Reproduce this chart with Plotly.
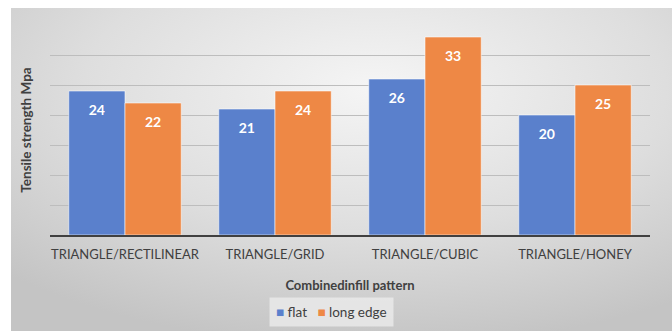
import base64
import plotly.graph_objects as go

# Data
patterns = ["TRIANGLE/RECTILINEAR", "TRIANGLE/GRID", "TRIANGLE/CUBIC", "TRIANGLE/HONEY"]
flat = [24, 21, 26, 20]
long_edge = [22, 24, 33, 25]
series = [("flat", flat, "#5A80CC"), ("long edge", long_edge, "#EE8845")]

TEXT = "#404040"
FONT = "Lato"

# Soft radial grey backdrop for the chart panel
svg = (
    "<svg xmlns='http://www.w3.org/2000/svg' width='661' height='323' preserveAspectRatio='none'>"
    "<defs><radialGradient id='g' cx='55%' cy='25%' r='80%'>"
    "<stop offset='0' stop-color='#f5f5f5'/>"
    "<stop offset='0.55' stop-color='#dedede'/>"
    "<stop offset='1' stop-color='#c4c4c4'/>"
    "</radialGradient></defs>"
    "<rect width='100%' height='100%' fill='url(#g)'/></svg>"
)
bg_uri = "data:image/svg+xml;base64," + base64.b64encode(svg.encode()).decode()

fig = go.Figure()
for name, vals, color in series:
    fig.add_trace(go.Bar(
        x=patterns, y=vals, name=name, showlegend=False,
        marker=dict(color=color, line=dict(color="rgba(255,255,255,0.55)", width=1)),
        text=[f"<span style='font-size:3px'> </span><br>{v}" for v in vals],
        textposition="inside", insidetextanchor="end",
        textfont=dict(family=FONT, size=14, color="white", weight="bold"),
        textangle=0,
    ))

W, H = 672, 331
L, R, T, B = 50, 22, 25, 96
pw, ph = W - L - R, H - T - B
px0, py0, px1, py1 = 11, 8, 672, 331

fig.add_layout_image(dict(
    source=bg_uri, xref="paper", yref="paper",
    x=(px0 - L) / pw, y=(H - B - py0) / ph,
    sizex=(px1 - px0) / pw, sizey=(py1 - py0) / ph,
    xanchor="left", yanchor="top", sizing="stretch", layer="below",
))

# Compact legend row: coloured square followed by the series name
legend_text = "   ".join(
    f"<span style='color:{c}'>■</span> {n}" for n, _, c in series
)
fig.add_annotation(
    text=legend_text, xref="paper", yref="paper",
    x=(331 - L) / pw, y=(H - B - 312) / ph, xanchor="center", yanchor="middle",
    showarrow=False, font=dict(family=FONT, size=13.5, color=TEXT),
    bgcolor="rgba(240,240,240,0.7)", borderpad=6,
)

fig.update_layout(
    width=W, height=H,
    margin=dict(l=L, r=R, t=T, b=B, autoexpand=False),
    paper_bgcolor="white", plot_bgcolor="rgba(0,0,0,0)",
    barmode="group", bargap=0.25, bargroupgap=0,
    font=dict(family=FONT, color=TEXT, size=12),
    xaxis=dict(
        showline=True, linecolor=TEXT, linewidth=2, ticks="",
        ticklabelstandoff=6,
        tickfont=dict(family=FONT, size=13, color=TEXT),
        title=dict(text="Combinedinfill pattern", standoff=20,
                   font=dict(family=FONT, size=13, color=TEXT, weight="bold")),
    ),
    yaxis=dict(
        range=[0, 35], dtick=5, showticklabels=False, ticks="",
        showgrid=True, gridcolor="#bdbdbd", gridwidth=1, zeroline=False,
        title=dict(text="Tensile strength Mpa", standoff=14,
                   font=dict(family=FONT, size=13.5, color=TEXT, weight="bold")),
    ),
)

fig.write_html("out.html")
